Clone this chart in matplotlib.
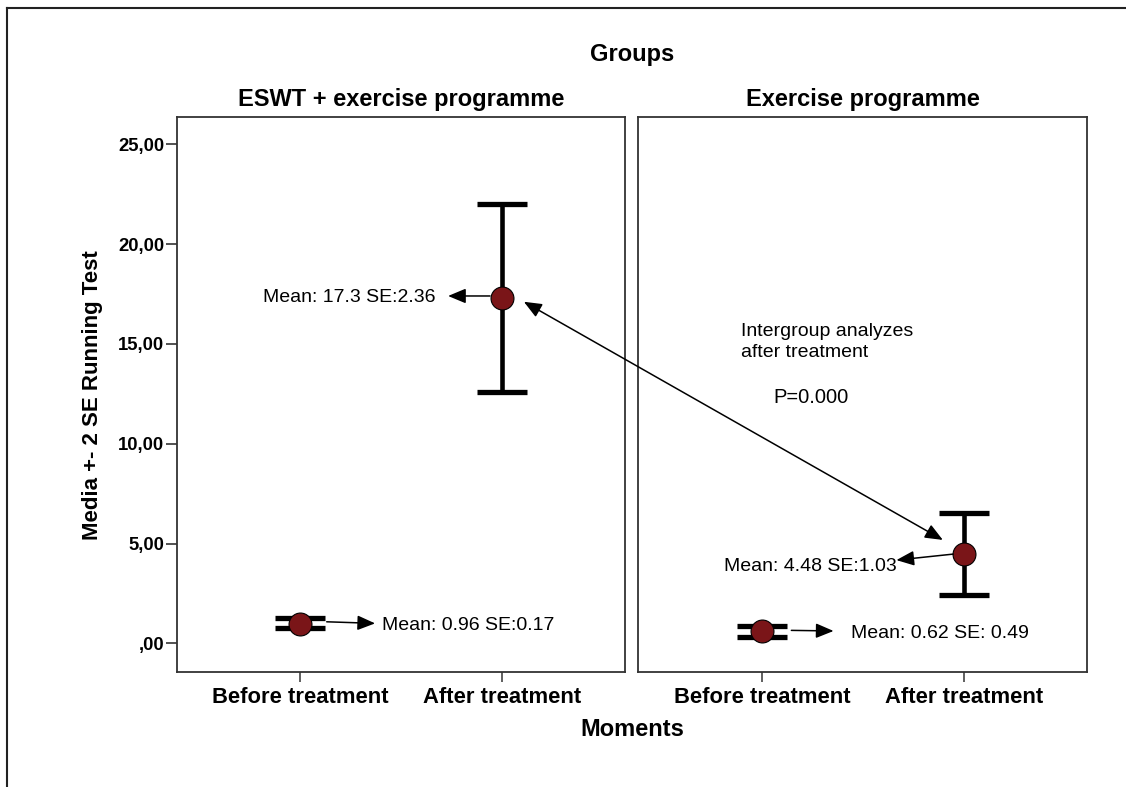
import numpy as np
import matplotlib
matplotlib.use("Agg")
import matplotlib.pyplot as plt
from matplotlib.lines import Line2D
from matplotlib.patches import ConnectionPatch

plt.rcParams['font.family'] = ['Liberation Sans', 'DejaVu Sans']

# data
groups = ["ESWT + exercise programme", "Exercise programme"]
moments = ["Before treatment", "After treatment"]
means_eswt = [0.96, 17.3]
lower_eswt = [0.75, 12.6]
upper_eswt = [1.25, 22.03]
means_ex = [0.62, 4.48]
lower_ex = [0.33, 2.40]
upper_ex = [0.85, 6.55]
yticks = [0, 5, 10, 15, 20, 25]
ytick_labels = [",00", "5,00", "10,00", "15,00", "20,00", "25,00"]

fig = plt.figure(figsize=(11.26, 7.87), dpi=100)
W, H = 1126, 787

def px_axes(x0, y0, x1, y1):
    return fig.add_axes([x0 / W, 1 - y1 / H, (x1 - x0) / W, (y1 - y0) / H])

ax1 = px_axes(176.7, 116.7, 624.7, 671.7)
ax2 = px_axes(638.3, 116.7, 1087, 671.7)

marker_col = "#7a1518"
x = np.arange(len(moments))

def draw_panel(ax, means, lower, upper, title):
    means = np.array(means)
    err = [means - np.array(lower), np.array(upper) - means]
    ax.errorbar(x, means, yerr=err, fmt="none", ecolor="black",
                elinewidth=3.3, capsize=18, capthick=3.8, zorder=2)
    ax.plot(x, means, "o", color=marker_col, markersize=16.5,
            markeredgecolor="black", markeredgewidth=0.8, zorder=3)
    ax.set_xlim(-0.612, 1.61)
    ax.set_ylim(-1.42, 26.38)
    ax.set_xticks(x)
    ax.set_xticklabels(moments, fontsize=15.8, fontweight="bold")
    ax.tick_params(axis="x", length=7, width=1.2, color="#444444", pad=4)
    ax.set_title(title, fontsize=17, fontweight="bold", pad=8)
    for s in ax.spines.values():
        s.set_color("#333333")
        s.set_linewidth(1.3)

draw_panel(ax1, means_eswt, lower_eswt, upper_eswt, groups[0])
draw_panel(ax2, means_ex, lower_ex, upper_ex, groups[1])

ax1.set_yticks(yticks)
ax1.set_yticklabels(ytick_labels, fontsize=13.3, fontweight="bold")
ax1.tick_params(axis="y", length=8, width=1.2, color="#333333", pad=1)
ax2.set_yticks([])

arrow = dict(arrowstyle="-|>,head_length=0.6,head_width=0.25", color="black",
             lw=1.1, mutation_scale=18, shrinkA=0, shrinkB=0)

# left panel labels
ax1.annotate("", xy=(0.734, 17.4), xytext=(0.942, 17.4), arrowprops=arrow)
ax1.text(0.674, means_eswt[1], "Mean: 17.3 SE:2.36", fontsize=14,
         ha="right", va="center")
ax1.annotate("", xy=(0.372, 1.0), xytext=(0.132, 1.08), arrowprops=arrow)
ax1.text(0.407, 0.88, "Mean: 0.96 SE:0.17", fontsize=14, ha="left", va="center")

# right panel labels
ax2.annotate("", xy=(0.666, 4.17), xytext=(0.947, 4.47), arrowprops=arrow)
ax2.text(0.668, 3.87, "Mean: 4.48 SE:1.03", fontsize=14, ha="right", va="center")
ax2.annotate("", xy=(0.355, 0.62), xytext=(0.146, 0.65), arrowprops=arrow)
ax2.text(0.443, 0.47, "Mean: 0.62 SE: 0.49", fontsize=14, ha="left", va="center")

ax2.text(-0.102, 15.1, "Intergroup analyzes\nafter treatment", fontsize=14,
         ha="left", va="center", linespacing=1.35)
ax2.text(0.055, 12.32, "P=0.000", fontsize=14.5, ha="left", va="center")

# intergroup double arrow
con = ConnectionPatch(xyA=(1.11, 17.11), coordsA=ax1.transData,
                      xyB=(0.896, 5.18), coordsB=ax2.transData,
                      arrowstyle="<|-|>,head_length=0.6,head_width=0.25",
                      color="black", lw=1.1, mutation_scale=18,
                      shrinkA=0, shrinkB=0)
fig.add_artist(con)

fig.text(631.9 / W, 1 - 54 / H, "Groups", fontsize=17, fontweight="bold",
         ha="center", va="center")
fig.text(631.9 / W, 1 - 729 / H, "Moments", fontsize=17, fontweight="bold",
         ha="center", va="center")
fig.text(93 / W, 1 - 395 / H, "Media +- 2 SE Running Test", fontsize=16,
         fontweight="bold", ha="center", va="center", rotation=90)

# outer frame (left and top edges)
fig.add_artist(Line2D([7.5 / W, 7.5 / W], [0, 1 - 7.5 / H], color="#222222", lw=1.5))
fig.add_artist(Line2D([7.5 / W, 1], [1 - 7.5 / H, 1 - 7.5 / H], color="#222222", lw=1.5))

fig.savefig("out.png", dpi=100)
